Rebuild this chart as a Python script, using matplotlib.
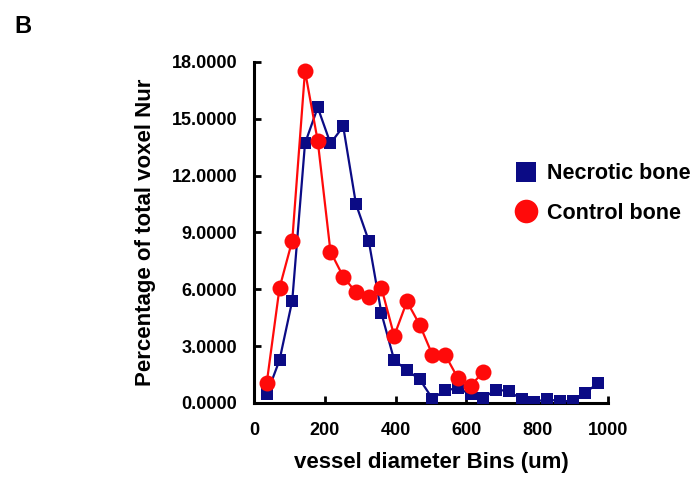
import matplotlib
matplotlib.use("Agg")
import matplotlib.pyplot as plt
from matplotlib.lines import Line2D

plt.rcParams['font.family'] = ['Liberation Sans', 'DejaVu Sans']
plt.rcParams['font.weight'] = 'bold'

# bin centres (um)
bins_necrotic = [36, 72, 108, 144, 180, 216, 252, 288, 324, 360, 396, 432, 468, 504,
                 540, 576, 612, 648, 684, 720, 756, 792, 828, 864, 900, 936, 972]
necrotic = [0.46, 2.26, 5.40, 13.70, 15.60, 13.70, 14.60, 10.50, 8.57, 4.73, 2.26, 1.73,
            1.25, 0.23, 0.67, 0.78, 0.46, 0.28, 0.70, 0.63, 0.19, 0.07, 0.19, 0.10,
            0.10, 0.55, 1.04]

bins_control = [36, 72, 108, 144, 180, 216, 252, 288, 324, 360, 396, 432, 468, 504,
                540, 576, 612, 648]
control = [1.07, 6.07, 8.57, 17.53, 13.83, 7.99, 6.67, 5.84, 5.61, 6.07, 3.54, 5.36,
           4.13, 2.54, 2.54, 1.31, 0.90, 1.66]

y_ticks = [0, 3, 6, 9, 12, 15, 18]
x_ticks = [0, 200, 400, 600, 800, 1000]

navy = '#0b0b85'
red = '#ff0a0a'

fig = plt.figure(figsize=(6.95, 4.79), dpi=100)
ax = fig.add_axes([0.3655, 0.1587, 0.5093, 0.7119])

ax.plot(bins_necrotic, necrotic, color=navy, lw=1.6, marker='s', ms=8.5,
        markeredgewidth=0, zorder=3)
ax.plot(bins_control, control, color=red, lw=1.6, marker='o', ms=11.5,
        markeredgewidth=0, zorder=4)

ax.set_xlim(0, 1000)
ax.set_ylim(0, 18)
ax.set_xticks(x_ticks)
ax.set_yticks(y_ticks)
ax.set_yticklabels([f'{v:.4f}' for v in y_ticks])
for s in ['top', 'right']:
    ax.spines[s].set_visible(False)
for s in ['left', 'bottom']:
    ax.spines[s].set_linewidth(2.2)
ax.tick_params(axis='both', direction='in', length=5, width=2, labelsize=13)
ax.tick_params(axis='y', pad=12)
ax.tick_params(axis='x', pad=14)

ax.set_xlabel('vessel diameter Bins (um)', fontsize=16, fontweight='bold', labelpad=9)
ax.set_ylabel('Percentage of total voxel Nur', fontsize=16, fontweight='bold', labelpad=11)

handles = [Line2D([], [], color=navy, marker='s', ms=15, lw=0, markeredgewidth=0),
           Line2D([], [], color=red, marker='o', ms=17, lw=0, markeredgewidth=0)]
fig.legend(handles, ['Necrotic bone', 'Control bone'], loc='center left',
           bbox_to_anchor=(0.741, 0.596), frameon=False,
           handlelength=1.0, handletextpad=0.47, borderpad=0, borderaxespad=0,
           labelspacing=0.88, prop={'weight': 'bold', 'size': 15.5})

fig.text(0.02, 0.932, 'B', fontsize=17, fontweight='bold')

fig.savefig('out.png', dpi=100)
